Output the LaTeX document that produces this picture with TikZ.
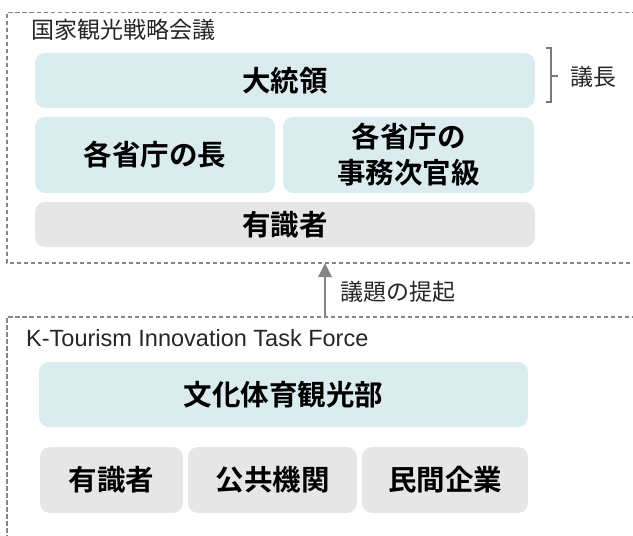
\documentclass[tikz,border=0pt]{standalone}
\usepackage{fontspec}
\setmainfont{Liberation Sans}
\newfontfamily\jp{Noto Sans CJK JP}
\newfontfamily\jpb{Noto Sans CJK JP Bold}
\usetikzlibrary{arrows.meta}
\definecolor{teal}{HTML}{DAECEE}
\definecolor{lgray}{HTML}{E6E6E6}
\definecolor{dgray}{HTML}{858585}
\definecolor{bgray}{HTML}{7A7A7A}
\tikzset{
  box/.style={rounded corners=10pt, inner sep=0pt, align=center, font=\jpb\fontsize{28.5}{36}\selectfont},
  tealbox/.style={box, fill=teal},
  graybox/.style={box, fill=lgray},
  frame/.style={draw=dgray, line width=1.5pt, dash pattern=on 4.5pt off 2.5pt},
  lbl/.style={anchor=west, inner sep=0pt, font=\jp\fontsize{23}{26}\selectfont, text=black!85},
}
\begin{document}
\begin{tikzpicture}[x=1pt, y=-1pt]
\useasboundingbox (0,0) rectangle (633,536);
\clip (0,0) rectangle (633,536);
% frames
\draw[frame] (650,12.5) -- (7,12.5) -- (7,263) -- (650,263);
\draw[frame] (650,317) -- (7,317) -- (7,560);
\coordinate (ncbot) at (325,263);
\coordinate (tftop) at (325,317);
% labels
\node[lbl] (nctitle) at (31,30) {国家観光戦略会議};
\node[lbl, font=\fontsize{23.5}{26}\selectfont] (tftitle) at (26,338) {K-Tourism Innovation Task Force};
% top boxes
\node[tealbox, minimum width=500pt, minimum height=55pt] (pres) at (285,80.5) {大統領};
\node[tealbox, minimum width=240pt, minimum height=76pt] (heads) at (155,155) {各省庁の長};
\node[tealbox, minimum width=251pt, minimum height=76pt] (vice) at (408.5,155) {各省庁の\\事務次官級};
\node[graybox, minimum width=500pt, minimum height=45pt] (exp1) at (285,224.5) {有識者};
% bracket
\coordinate (brt) at (546,48);
\coordinate (brb) at (546,102);
\draw[bgray, line width=1.6pt] (brt) -- (551,48) -- (551,102) -- (brb);
\draw[bgray, line width=1.6pt] (551,76) -- (558,76);
\node[lbl] (chair) at (570,77) {議長};
% arrow
\draw[dgray, line width=2.8pt, -{Triangle[length=14pt,width=13pt]}] (tftop) -- (ncbot);
\node[lbl] (agenda) at (340,292) {議題の提起};
% bottom boxes
\node[tealbox, minimum width=489pt, minimum height=65pt] (mcst) at (283.5,394.5) {文化体育観光部};
\node[graybox, minimum width=143pt, minimum height=66pt] (exp2) at (111.5,480) {有識者};
\node[graybox, minimum width=169pt, minimum height=66pt] (pub) at (272.5,480) {公共機関};
\node[graybox, minimum width=166pt, minimum height=66pt] (priv) at (445,480) {民間企業};
\end{tikzpicture}
\end{document}
